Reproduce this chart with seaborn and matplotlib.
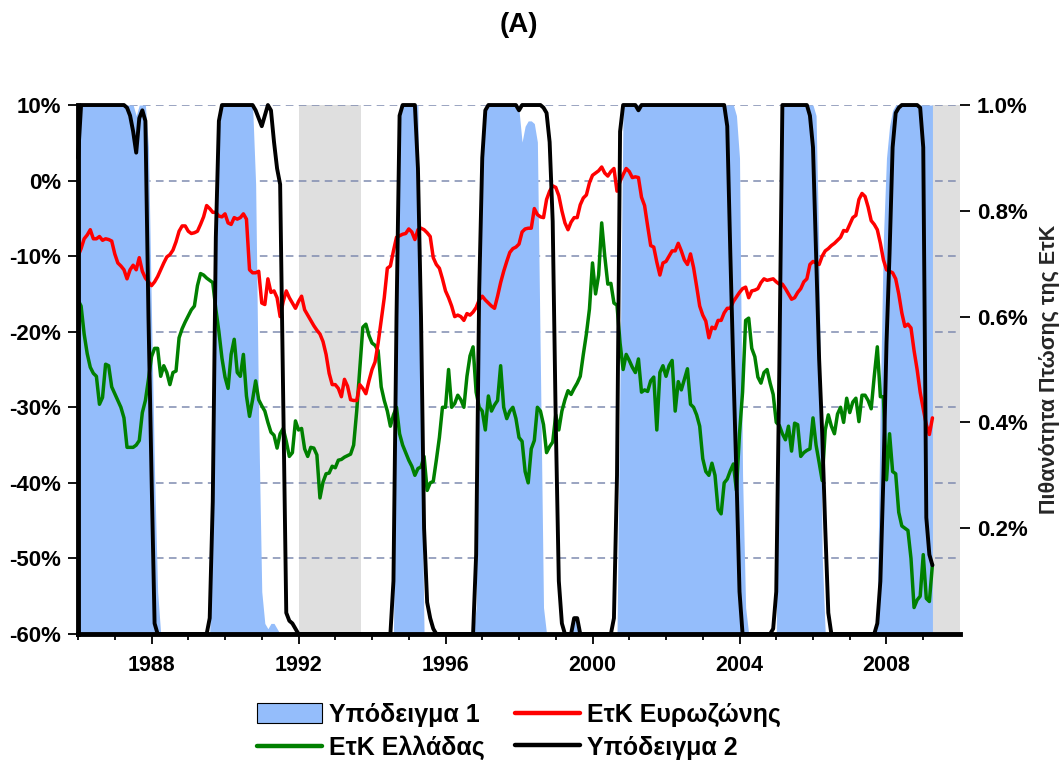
import numpy as np
import pandas as pd
import matplotlib
matplotlib.use("Agg")
import matplotlib.pyplot as plt
import seaborn as sns
from matplotlib.patches import Patch
from matplotlib.lines import Line2D
from matplotlib.ticker import FixedLocator, FuncFormatter

# ---------------- data (monthly, Jan 1986 .. Apr 2009) ----------------
start_year = 1986

euro_area = [
    -10.0, -9.0, -7.7, -7.2, -6.5, -7.7, -7.7, -7.4, -7.9, -7.7, -7.8, -8.0,
    -9.7, -10.9, -11.3, -11.8, -13.0, -11.8, -11.2, -11.8, -10.2, -12.0, -12.9, -13.4,
    -13.9, -13.4, -12.7, -11.8, -10.9, -10.1, -9.8, -9.2, -8.1, -6.7, -6.0, -6.0,
    -6.7, -7.0, -6.9, -6.7, -5.8, -4.8, -3.3, -3.7, -4.2, -4.2, -4.7, -4.8,
    -4.4, -5.6, -5.8, -4.9, -5.1, -4.9, -4.4, -5.1, -11.8, -12.2, -12.2, -12.0,
    -16.2, -16.4, -13.0, -14.8, -14.6, -15.5, -18.0, -16.0, -14.6, -15.5, -16.2, -16.9,
    -16.0, -15.3, -17.1, -17.8, -18.5, -19.2, -19.8, -20.3, -21.3, -23.0, -25.5, -27.0,
    -27.0, -27.5, -28.6, -26.3, -27.2, -29.0, -29.1, -29.1, -27.0, -27.5, -28.2, -26.5,
    -25.0, -24.0, -21.5, -18.5, -15.5, -11.6, -11.3, -9.3, -7.5, -7.3, -7.1, -7.0,
    -6.4, -6.8, -7.8, -6.5, -6.3, -6.5, -6.9, -7.4, -10.2, -11.1, -11.6, -13.0,
    -14.6, -15.5, -16.6, -18.0, -17.8, -18.0, -18.5, -17.6, -17.8, -17.4, -16.8, -15.8,
    -15.3, -15.8, -16.2, -16.6, -16.9, -15.3, -13.5, -12.0, -10.7, -9.5, -9.0, -8.8,
    -8.4, -6.8, -6.4, -6.3, -6.3, -3.7, -4.5, -4.8, -4.9, -2.5, -1.4, -0.7,
    -0.9, -2.0, -4.0, -5.6, -6.5, -5.5, -4.9, -4.9, -3.2, -2.3, -1.9, -0.3,
    0.7, 1.0, 1.3, 1.8, 1.0, 0.6, 1.2, 1.6, -1.4, -0.1, 0.8, 1.6,
    1.2, 0.4, 0.5, 0.4, -2.2, -3.3, -6.0, -8.6, -8.8, -10.8, -12.5, -10.9,
    -10.7, -10.0, -9.3, -9.3, -8.3, -9.3, -10.5, -11.1, -9.7, -11.5, -14.0, -16.6,
    -17.8, -18.6, -20.8, -19.4, -19.6, -18.5, -18.5, -17.5, -16.9, -16.9, -16.0, -15.4,
    -14.8, -14.3, -14.1, -15.5, -14.6, -14.5, -14.3, -13.5, -13.0, -13.2, -13.1, -13.0,
    -13.4, -13.7, -13.7, -14.3, -15.0, -15.7, -15.5, -14.8, -14.3, -13.4, -13.0, -11.1,
    -10.7, -10.9, -11.1, -10.0, -9.3, -9.0, -8.6, -8.3, -7.9, -7.5, -6.6, -6.7,
    -5.8, -4.9, -4.6, -2.5, -1.7, -2.1, -3.5, -5.3, -5.8, -6.5, -8.3, -10.5,
    -11.8, -12.0, -12.2, -13.0, -15.0, -17.5, -19.3, -19.0, -19.5, -22.5, -25.0, -28.0,
    -30.2, -32.3, -33.6, -31.4,
]

greece = [
    -15.8, -16.6, -20.3, -22.9, -24.7, -25.5, -25.9, -29.6, -28.7, -24.3, -24.5, -27.3,
    -28.2, -29.1, -30.0, -31.4, -35.3, -35.3, -35.3, -35.0, -34.4, -30.7, -29.1, -26.3,
    -23.3, -22.2, -22.2, -25.9, -24.5, -25.4, -27.0, -25.4, -25.2, -20.8, -19.6, -18.7,
    -17.9, -17.1, -16.6, -13.9, -12.3, -12.5, -12.9, -13.2, -13.5, -17.0, -20.0, -23.5,
    -26.0, -27.5, -23.0, -21.0, -25.4, -25.9, -23.0, -28.5, -31.2, -29.0, -26.5, -29.0,
    -29.8, -30.5, -32.0, -33.3, -33.7, -35.4, -33.5, -32.8, -34.5, -36.5, -36.0, -31.8,
    -33.0, -32.8, -35.5, -36.5, -35.3, -35.4, -36.3, -42.0, -39.9, -38.8, -38.7, -37.8,
    -38.0, -37.0, -36.9, -36.6, -36.4, -36.2, -35.0, -30.5, -24.9, -19.4, -19.0, -20.5,
    -21.5, -21.8, -22.5, -27.3, -29.1, -30.5, -32.5, -31.0, -30.0, -33.5, -35.0, -36.0,
    -37.0, -37.8, -39.0, -38.1, -37.9, -36.5, -41.0, -40.0, -39.8, -37.0, -34.0, -30.0,
    -30.0, -25.0, -30.0, -29.5, -28.4, -29.0, -30.0, -25.9, -23.2, -22.0, -28.0, -30.0,
    -30.5, -33.0, -28.5, -30.5, -29.7, -29.1, -24.5, -30.0, -31.5, -30.5, -30.0, -31.5,
    -34.0, -34.5, -38.5, -40.0, -35.5, -34.4, -30.0, -30.5, -32.3, -36.0, -35.2, -34.6,
    -31.0, -33.0, -30.5, -29.0, -27.8, -28.3, -27.5, -26.8, -25.9, -23.0, -20.3, -17.0,
    -10.9, -15.0, -12.5, -5.6, -10.0, -13.7, -13.6, -16.2, -16.5, -21.5, -25.0, -23.0,
    -23.8, -24.7, -25.4, -23.6, -28.0, -27.7, -27.9, -26.5, -26.0, -33.0, -25.4, -24.5,
    -25.9, -24.5, -23.8, -30.5, -26.6, -27.7, -26.3, -24.9, -29.6, -30.0, -31.0, -32.5,
    -36.8, -38.5, -39.0, -37.4, -39.0, -43.5, -44.1, -40.0, -39.5, -38.4, -37.5, -41.0,
    -33.5, -28.0, -18.5, -18.2, -22.2, -23.3, -26.0, -26.8, -25.4, -25.0, -26.8, -28.3,
    -32.0, -32.4, -33.5, -34.3, -32.5, -35.8, -32.1, -32.3, -36.5, -36.0, -35.7, -35.5,
    -31.4, -35.0, -37.3, -39.7, -33.0, -31.0, -32.5, -33.5, -30.9, -30.0, -32.0, -28.8,
    -30.7, -29.3, -28.8, -31.9, -28.4, -28.4, -29.1, -30.2, -25.9, -22.0, -28.6, -28.6,
    -39.6, -33.5, -38.5, -38.8, -43.9, -45.7, -46.0, -46.3, -50.0, -56.5, -55.5, -55.0,
    -49.5, -55.3, -55.7, -50.8,
]

model1_prob = [
    1, 1, 1, 1, 1, 1, 1, 1, 1, 1, 1, 1,
    1, 1, 1, 1, 1, 1, 1, 0.98, 1, 1, 1, 0.92,
    0.6, 0.3, 0.08, 0, 0, 0, 0, 0, 0, 0, 0, 0,
    0, 0, 0, 0, 0, 0, 0, 0, 0.3, 0.75, 0.95, 1,
    1, 1, 1, 1, 1, 1, 1, 1, 1, 1, 0.85, 0.4,
    0.08, 0.02, 0.01, 0.02, 0.02, 0.01, 0, 0, 0, 0, 0, 0,
    0, 0, 0, 0, 0, 0, 0, 0, 0, 0, 0, 0,
    0, 0, 0, 0, 0, 0, 0, 0, 0, 0, 0, 0,
    0, 0, 0, 0, 0, 0, 0, 0, 0.6, 1, 1, 1,
    1, 1, 1, 1, 0.4, 0, 0, 0, 0, 0, 0, 0,
    0, 0, 0, 0, 0, 0, 0, 0, 0, 0, 0.05, 0.5,
    0.9, 1, 1, 1, 1, 1, 1, 1, 1, 1, 1, 1,
    0.99, 0.93, 0.96, 0.97, 0.97, 0.965, 0.93, 0.5, 0.05, 0, 0, 0,
    0, 0, 0, 0, 0, 0, 0.03, 0.02, 0, 0, 0, 0,
    0, 0, 0, 0, 0, 0, 0, 0, 0, 0.5, 1, 1,
    1, 1, 1, 1, 1, 1, 1, 1, 1, 1, 1, 1,
    1, 1, 1, 1, 1, 1, 1, 1, 1, 1, 1, 1,
    1, 1, 1, 1, 1, 1, 1, 1, 1, 1, 1, 0.98,
    0.9, 0.3, 0.05, 0, 0, 0, 0, 0, 0, 0, 0, 0,
    0, 0.6, 1, 1, 1, 1, 1, 1, 1, 1, 1, 1,
    1, 0.98, 0.7, 0.15, 0, 0, 0, 0, 0, 0, 0, 0,
    0, 0, 0, 0, 0, 0, 0, 0, 0, 0.05, 0.45, 0.75,
    0.9, 0.96, 0.99, 1, 1, 1, 1, 1, 1, 1, 1, 1,
    1, 1, 1, 1,
]

model2_prob = [
    0.9, 1, 1, 1, 1, 1, 1, 1, 1, 1, 1, 1,
    1, 1, 1, 1, 0.995, 0.98, 0.95, 0.91, 0.975, 0.99, 0.97, 0.6,
    0.3, 0.02, 0, 0, 0, 0, 0, 0, 0, 0, 0, 0,
    0, 0, 0, 0, 0, 0, 0, 0.03, 0.25, 0.75, 0.97, 1,
    1, 1, 1, 1, 1, 1, 1, 1, 1, 1, 0.99, 0.975,
    0.96, 0.98, 1, 0.99, 0.93, 0.88, 0.85, 0.45, 0.04, 0.025, 0.02, 0.01,
    0, 0, 0, 0, 0, 0, 0, 0, 0, 0, 0, 0,
    0, 0, 0, 0, 0, 0, 0, 0, 0, 0, 0, 0,
    0, 0, 0, 0, 0, 0, 0, 0.1, 0.6, 0.98, 1, 1,
    1, 1, 1, 0.88, 0.6, 0.2, 0.06, 0.03, 0.01, 0, 0, 0,
    0, 0, 0, 0, 0, 0, 0, 0, 0, 0, 0.15, 0.65,
    0.9, 0.99, 1, 1, 1, 1, 1, 1, 1, 1, 1, 1,
    0.99, 1, 1, 1, 1, 1, 1, 1, 0.995, 0.985, 0.93, 0.78,
    0.4, 0.1, 0.02, 0, 0, 0, 0.03, 0.03, 0, 0, 0, 0,
    0, 0, 0, 0, 0, 0, 0, 0.03, 0.3, 0.95, 1, 1,
    1, 1, 1, 0.99, 1, 1, 1, 1, 1, 1, 1, 1,
    1, 1, 1, 1, 1, 1, 1, 1, 1, 1, 1, 1,
    1, 1, 1, 1, 1, 1, 1, 1, 0.96, 0.72, 0.5, 0.3,
    0.08, 0, 0, 0, 0, 0, 0, 0, 0, 0, 0, 0.01,
    0.08, 0.5, 1, 1, 1, 1, 1, 1, 1, 1, 1, 0.98,
    0.92, 0.72, 0.52, 0.38, 0.2, 0.04, 0, 0, 0, 0, 0, 0,
    0, 0, 0, 0, 0, 0, 0, 0, 0, 0.02, 0.1, 0.3,
    0.55, 0.72, 0.92, 0.985, 0.995, 1, 1, 1, 1, 1, 1, 0.995,
    0.92, 0.22, 0.15, 0.13,
]

shaded_periods = [(1992.0, 1993.7), (2009.25, 2010.0)]
left_ticks = [-60, -50, -40, -30, -20, -10, 0, 10]
right_ticks = [0.2, 0.4, 0.6, 0.8, 1.0]
year_labels = [1988, 1992, 1996, 2000, 2004, 2008]
year_minor = list(range(1986, 2010))

legend_labels = ["Υπόδειγμα 1", "ΕτΚ Ελλάδας", "ΕτΚ Ευρωζώνης", "Υπόδειγμα 2"]
right_label = "Πιθανότητα Πτώσης της ΕτΚ"
title = "(A)"

# ---------------- style ----------------
sns.set_theme(style="ticks")
plt.rcParams["font.family"] = ["Liberation Sans", "DejaVu Sans"]
plt.rcParams["font.weight"] = "bold"
plt.rcParams["text.color"] = "black"
plt.rcParams["xtick.color"] = "black"
plt.rcParams["ytick.color"] = "black"
plt.rcParams["axes.edgecolor"] = "black"

BLUE = "#94BDFB"
GRAY = "#DFDFDF"
GRID = "#7F8BB0"

n = len(euro_area)
df = pd.DataFrame({
    "year": start_year + np.arange(n) / 12.0,
    "euro": euro_area,
    "greece": greece,
    "m1": model1_prob,
    "m2": model2_prob,
})

fig = plt.figure(figsize=(10.63, 7.60), dpi=100)
ax = fig.add_axes([0.0734, 0.1658, 0.8297, 0.6960])

# base axis: shading + grid + left ticks
for a, b in shaded_periods:
    ax.axvspan(a, b, color=GRAY, lw=0, zorder=0.1)
ax.set_ylim(-60, 10)
ax.set_xlim(1986, 2010)
ax.yaxis.set_major_locator(FixedLocator(left_ticks))
ax.yaxis.set_major_formatter(FuncFormatter(lambda v, p: f"{v:.0f}%"))
ax.xaxis.set_major_locator(FixedLocator(year_labels))
ax.xaxis.set_minor_locator(FixedLocator(year_minor))
ax.xaxis.set_major_formatter(FuncFormatter(lambda v, p: f"{v:.0f}"))
ax.set_axisbelow(True)
ax.yaxis.grid(True, linestyle=(0, (5, 3.5)), color=GRID, linewidth=1.1)
ax.xaxis.grid(False)
ax.tick_params(axis="y", which="major", direction="out", length=7, width=1.3,
               pad=5, labelsize=16, left=True, right=False)
ax.tick_params(axis="x", which="major", direction="out", length=7, width=1.3,
               pad=8, labelsize=15.5, bottom=True, top=False)
ax.tick_params(axis="x", which="minor", direction="out", length=4, width=1.3,
               bottom=True, top=False)
for s in ax.spines.values():
    s.set_visible(False)
ax.set_xlabel("")
ax.set_ylabel("")

# probability axis (right): Model 1 filled area
axp = ax.twinx()
axp.set_zorder(ax.get_zorder() + 1)
axp.patch.set_visible(False)
axp.fill_between(df["year"], 0, df["m1"], color=BLUE, lw=0, zorder=1)
axp.set_ylim(0, 1)
axp.yaxis.set_major_locator(FixedLocator(right_ticks))
axp.yaxis.set_major_formatter(FuncFormatter(lambda v, p: f"{v:.1f}%"))
axp.tick_params(axis="y", direction="out", length=7, width=1.3, pad=5,
                labelsize=16, right=True, left=False)
axp.set_ylabel(right_label, fontsize=15.5, fontweight="bold", labelpad=8)
for s in axp.spines.values():
    s.set_visible(False)

# rates axis (left scale): Greece and euro area
axl = ax.twinx()
axl.set_zorder(ax.get_zorder() + 2)
axl.patch.set_visible(False)
sns.lineplot(data=df, x="year", y="greece", ax=axl, color="#008000", lw=2.5,
             legend=False)
sns.lineplot(data=df, x="year", y="euro", ax=axl, color="#FF0000", lw=2.5,
             legend=False)
axl.set_ylim(-60, 10)
axl.yaxis.set_visible(False)
axl.set_ylabel("")
for s in axl.spines.values():
    s.set_visible(False)

# Model 2 probability line (right scale), on top
axb = ax.twinx()
axb.set_zorder(ax.get_zorder() + 3)
axb.patch.set_visible(False)
sns.lineplot(data=df, x="year", y="m2", ax=axb, color="black", lw=2.8,
             legend=False, clip_on=False)
axb.set_ylim(0, 1)
axb.yaxis.set_visible(False)
axb.set_ylabel("")
for k, s in axb.spines.items():
    s.set_visible(k in ("left", "bottom"))
    s.set_linewidth(3.5)
    s.set_color("black")
ax.set_xlim(1986, 2010)

# legend
handles = [
    Patch(facecolor=BLUE, edgecolor="black", linewidth=0.8),
    Line2D([], [], color="#008000", lw=3.2),
    Line2D([], [], color="#FF0000", lw=3.2),
    Line2D([], [], color="black", lw=3.2),
]
axb.legend(handles, legend_labels, ncol=2, loc="upper center",
           bbox_to_anchor=(0.5, -0.092), frameon=False,
           prop={"weight": "bold", "size": 18}, handlelength=2.6,
           handleheight=0.8, handletextpad=0.3, columnspacing=1.2,
           labelspacing=0.35, borderpad=0.3)

fig.text(0.488, 0.967, title, ha="center", va="center", fontsize=20,
         fontweight="bold")

fig.savefig("out.png", dpi=100)
